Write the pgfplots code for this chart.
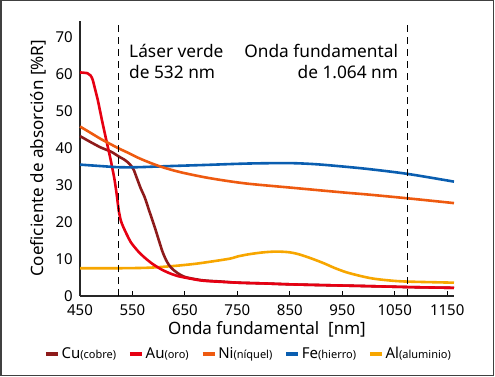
\documentclass[border=0pt]{standalone}
\usepackage{pgfplots}
\pgfplotsset{compat=1.18}
\usepackage{fontspec}
\setmainfont{Noto Sans}
\definecolor{cu}{HTML}{8E1B1B}
\definecolor{au}{HTML}{E60012}
\definecolor{ni}{HTML}{EE5A10}
\definecolor{fe}{HTML}{0A5EB0}
\definecolor{al}{HTML}{F7A600}
\begin{document}
\begin{tikzpicture}
\useasboundingbox (0pt,0pt) rectangle (495pt,-377pt);
\draw[black!75, line width=1.5pt] (0.75pt,-0.75pt) rectangle (493.5pt,-375.5pt);
\begin{axis}[
 at={(80pt,-296pt)}, anchor=south west,
 scale only axis, width=374pt, height=275pt,
 xmin=450, xmax=1163, ymin=0, ymax=74.3,
 axis x line=bottom, axis y line=left,
 axis line style={-, line width=1.6pt, black!85},
 xtick={450,550,...,1150}, ytick={0,10,...,70},
 xtick style={line width=1pt, black}, tick align=inside, major tick length=5pt,
 ytick style={draw=none},
 ticklabel style={font=\fontsize{15}{17}\selectfont, inner sep=1pt},
 yticklabel style={xshift=-6pt},
 xticklabel style={yshift=-7pt},
 /pgf/number format/assume math mode=true,
 /pgf/number format/1000 sep={},
 xlabel={Onda fundamental\ \ [nm]}, ylabel={Coeficiente de absorción [\%R]},
 label style={font=\fontsize{17}{19}\selectfont},
 xlabel style={at={(axis description cs:0.5,-0.12)}, anchor=center},
 ylabel style={at={(axis description cs:-0.112,0.5)}, anchor=center},
 legend style={at={(0.4505,-0.211)}, anchor=center, draw=none, fill=none,
   legend columns=5, font=\fontsize{15}{17}\selectfont,
   /tikz/every even column/.append style={column sep=10pt}, inner sep=0pt},
 legend image code/.code={\draw[line width=3.5pt] (0pt,0pt) -- (12pt,0pt);},
 clip=false,
]
\addplot[al, line width=2.6pt, smooth, forget plot] coordinates {(450,7.5)(520,7.5)(573,7.6)(600,7.8)(636,8.2)(670,8.7)(700,9.3)(736,10.1)(751,10.7)(773,11.3)(800,11.8)(825,12.0)(850,11.8)(869,11.2)(890,10.2)(914,8.9)(935,7.6)(958,6.4)(985,5.4)(1009,4.7)(1040,4.2)(1073,3.9)(1163,3.6)};
\addplot[cu, line width=2.6pt, smooth, tension=0.5] coordinates {(450,43.2)(470,41.6)(490,40.1)(509,39.0)(525,37.6)(535,36.8)(545,35.6)(552,34.2)(558,32.0)(566,29.0)(573,26.8)(582,23.0)(592,18.8)(600,15.2)(608,11.7)(616,9.2)(624,7.6)(636,6.2)(649,5.2)(668,4.6)(687,4.2)(720,3.9)(751,3.6)(800,3.4)(863,3.1)(990,2.7)(1080,2.4)(1163,2.2)};
\addlegendentry{Cu{\fontsize{11}{12}\selectfont(cobre)}}
\addplot[au, line width=2.6pt, smooth, tension=0.45] coordinates {(450,60.4)(464,60.2)(470,59.6)(474,58.5)(478,56.3)(484,52.9)(492,47.4)(500,42.2)(508,37.1)(512,34.3)(516,31.3)(520,27.4)(524,23.0)(528,20.3)(533,18.5)(540,16.4)(547,14.5)(560,12.2)(573,10.4)(588,8.7)(605,7.2)(620,6.2)(636,5.4)(660,4.7)(687,4.1)(751,3.6)(800,3.4)(863,3.1)(990,2.7)(1080,2.4)(1163,2.2)};
\addlegendentry{Au{\fontsize{11}{12}\selectfont(oro)}}
\addplot[fe, line width=2.6pt, smooth, forget plot] coordinates {(450,35.5)(490,35.1)(524,34.8)(560,34.8)(620,35.1)(687,35.4)(773,35.8)(850,35.9)(900,35.6)(950,35.0)(1000,34.3)(1074,33.0)(1163,30.9)};
\addplot[ni, line width=2.6pt, smooth] coordinates {(450,45.8)(470,44.1)(490,42.4)(510,40.9)(522,40.0)(540,38.8)(560,37.4)(580,36.2)(605,34.9)(640,33.5)(687,32.1)(730,31.1)(773,30.3)(850,29.3)(950,28.0)(1000,27.4)(1074,26.4)(1163,25.1)};
\addlegendentry{Ni{\fontsize{11}{12}\selectfont(níquel)}}
\addlegendimage{fe}
\addlegendentry{Fe{\fontsize{11}{12}\selectfont(hierro)}}
\addlegendimage{al}
\addlegendentry{Al{\fontsize{11}{12}\selectfont(aluminio)}}
\addplot[black, line width=1.1pt, dash pattern=on 7pt off 5pt, forget plot] coordinates {(524,0)(524,74.3)};
\addplot[black, line width=1.1pt, dash pattern=on 7pt off 5pt, forget plot] coordinates {(1074,0)(1074,74.3)};
\end{axis}
\begin{scope}[every node/.style={font=\fontsize{17.3}{20}\selectfont, inner sep=0pt}]
\node[anchor=base west] at (129pt,-57.3pt) {Láser verde};
\node[anchor=base west] at (129pt,-78.3pt) {de 532 nm};
\node[anchor=base east] at (398.3pt,-57.3pt) {Onda fundamental};
\node[anchor=base east] at (398.3pt,-78.3pt) {de 1.064 nm};
\end{scope}
\end{tikzpicture}
\end{document}
